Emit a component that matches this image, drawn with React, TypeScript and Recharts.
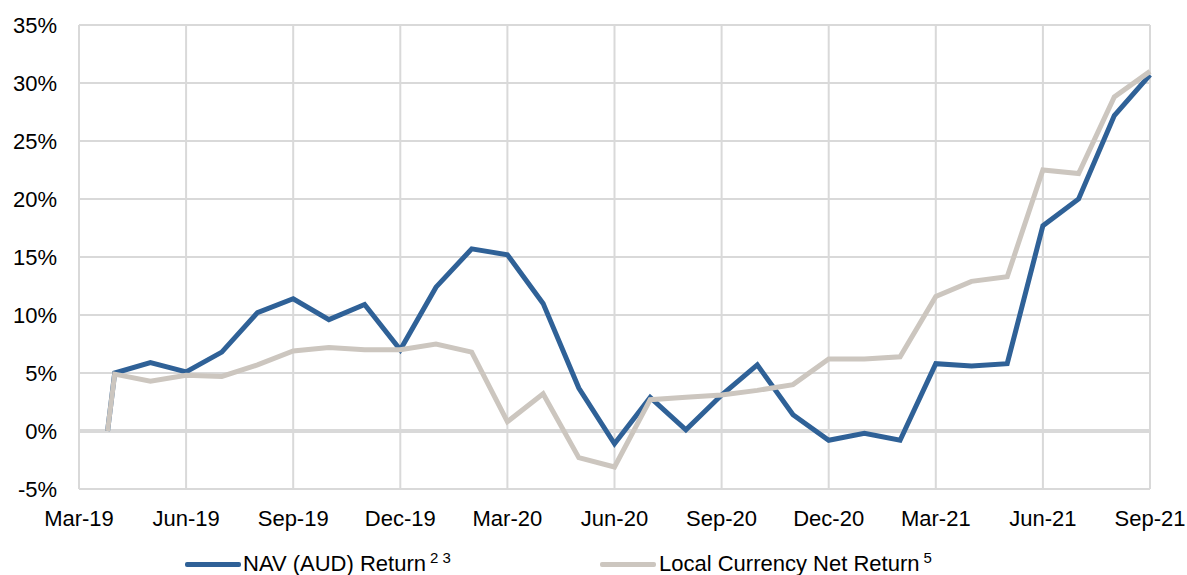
import React from 'react';
import { LineChart, Line, XAxis, YAxis, CartesianGrid, Legend, ReferenceLine } from 'recharts';

// month index from Mar-19 (0) to Sep-21 (30); first point is the inception date late in Mar-19
const months = [0.8, 1, 2, 3, 4, 5, 6, 7, 8, 9, 10, 11, 12, 13, 14, 15, 16, 17, 18, 19, 20, 21, 22, 23, 24, 25, 26, 27, 28, 29, 30];
const navReturn = [0, 5.0, 5.9, 5.1, 6.8, 10.2, 11.4, 9.6, 10.9, 7.0, 12.4, 15.7, 15.2, 11.0, 3.7, -1.1, 2.9, 0.1, 3.1, 5.7, 1.4, -0.8, -0.2, -0.8, 5.8, 5.6, 5.8, 17.7, 20.0, 27.2, 30.7];
const localReturn = [0, 4.9, 4.3, 4.8, 4.7, 5.7, 6.9, 7.2, 7.0, 7.0, 7.5, 6.8, 0.8, 3.2, -2.3, -3.1, 2.7, 2.9, 3.1, 3.5, 4.0, 6.2, 6.2, 6.4, 11.6, 12.9, 13.3, 22.5, 22.2, 28.8, 31.0];

const xTicks = [0, 3, 6, 9, 12, 15, 18, 21, 24, 27, 30];
const xLabels = ['Mar-19', 'Jun-19', 'Sep-19', 'Dec-19', 'Mar-20', 'Jun-20', 'Sep-20', 'Dec-20', 'Mar-21', 'Jun-21', 'Sep-21'];
const yTicks = [-5, 0, 5, 10, 15, 20, 25, 30, 35];

const NAV_COLOR = '#2f6197';
const LOCAL_COLOR = '#ccc6bf';
const FONT = '"Liberation Sans", Arial, sans-serif';

const data = months.map((m, i) => ({ m, nav: navReturn[i], local: localReturn[i] }));

const supStyle: React.CSSProperties = { fontSize: 15, verticalAlign: 'top', position: 'relative', top: -2, marginLeft: 4 };

const LegendContent = () => (
  <div style={{ position: 'relative', height: 30, width: 1187, fontFamily: FONT, fontSize: 22, color: '#000' }}>
    <div style={{ position: 'absolute', left: 185, top: 9, width: 56, height: 5, background: NAV_COLOR, borderRadius: 2 }} />
    <div style={{ position: 'absolute', left: 243, top: -2, whiteSpace: 'nowrap' }}>
      NAV (AUD) Return<span style={supStyle}>2 3</span>
    </div>
    <div style={{ position: 'absolute', left: 600, top: 9, width: 56, height: 5, background: LOCAL_COLOR, borderRadius: 2 }} />
    <div style={{ position: 'absolute', left: 659, top: -2, whiteSpace: 'nowrap' }}>
      Local Currency Net Return<span style={supStyle}>5</span>
    </div>
  </div>
);

const App: React.FC = () => {
  return (
    <div style={{ position: 'absolute', left: 0, top: 0, width: 1187, height: 575, overflow: 'hidden', fontFamily: FONT }}>
      <LineChart width={1187} height={600} data={data} margin={{ top: 25, right: 37, left: 0, bottom: 41 }}>
        <CartesianGrid stroke="#d9d9d9" strokeWidth={2} />
        <XAxis
          dataKey="m"
          type="number"
          domain={[0, 30]}
          ticks={xTicks}
          tickFormatter={(v: number) => xLabels[xTicks.indexOf(v)]}
          axisLine={false}
          tickLine={false}
          tickMargin={15}
          height={40}
          tick={{ fill: '#000', fontSize: 22, fontFamily: FONT }}
          interval={0}
        />
        <YAxis
          type="number"
          domain={[-5, 35]}
          ticks={yTicks}
          tickFormatter={(v: number) => `${v}%`}
          axisLine={false}
          tickLine={false}
          tickMargin={16}
          width={79}
          tick={{ fill: '#000', fontSize: 22, fontFamily: FONT }}
          interval={0}
        />
        <ReferenceLine y={0} stroke="#d9d9d9" strokeWidth={4} />
        <Legend
          verticalAlign="bottom"
          content={<LegendContent />}
          wrapperStyle={{ position: 'absolute', top: 553, left: 0, width: 1187, height: 30 }}
        />
        <Line type="linear" dataKey="nav" name="NAV (AUD) Return ² ³" stroke={NAV_COLOR} strokeWidth={5} dot={false} isAnimationActive={false} />
        <Line type="linear" dataKey="local" name="Local Currency Net Return ⁵" stroke={LOCAL_COLOR} strokeWidth={5} dot={false} isAnimationActive={false} />
      </LineChart>
    </div>
  );
};

export default App;
